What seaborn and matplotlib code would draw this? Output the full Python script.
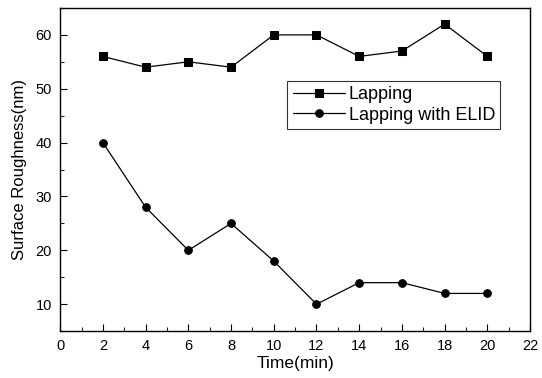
import pandas as pd
import matplotlib.pyplot as plt
import seaborn as sns
from matplotlib.ticker import MultipleLocator

# --- Données ---
time_min = [2, 4, 6, 8, 10, 12, 14, 16, 18, 20]
lapping = [56, 54, 55, 54, 60, 60, 56, 57, 62, 56]
lapping_elid = [40, 28, 20, 25, 18, 10, 14, 14, 12, 12]

df = pd.DataFrame({
    "Time": time_min * 2,
    "Roughness": lapping + lapping_elid,
    "Process": ["Lapping"] * len(time_min) + ["Lapping with ELID"] * len(time_min),
})

sns.set_theme(style="ticks")
plt.rcParams["font.family"] = ["Liberation Sans", "DejaVu Sans"]
plt.rcParams["text.color"] = "black"
plt.rcParams["axes.labelcolor"] = "black"

fig = plt.figure(figsize=(5.42, 3.78), dpi=100)
ax = fig.add_axes([0.111, 0.124, 0.867, 0.855])

sns.lineplot(
    data=df, x="Time", y="Roughness", hue="Process", style="Process",
    markers={"Lapping": "s", "Lapping with ELID": "o"}, dashes=False,
    palette=["black", "black"], markersize=5.5, linewidth=0.9,
    markeredgecolor="black", ax=ax,
)

ax.set_xlim(0, 22)
ax.set_ylim(5, 65)
ax.xaxis.set_major_locator(MultipleLocator(2))
ax.xaxis.set_minor_locator(MultipleLocator(1))
ax.yaxis.set_minor_locator(MultipleLocator(5))
ax.set_yticks([10, 20, 30, 40, 50, 60])
ax.tick_params(which="major", direction="in", length=5, width=0.8, labelsize=10.5,
               colors="black", pad=6)
ax.tick_params(which="minor", direction="in", length=3, width=0.8)
for s in ax.spines.values():
    s.set_color("black")
    s.set_linewidth(1.0)

ax.set_xlabel("Time(min)", fontsize=12.5, labelpad=2)
ax.set_ylabel("Surface Roughness(nm)", fontsize=12, labelpad=6)

leg = ax.legend(loc="upper left", bbox_to_anchor=(0.483, 0.775), fontsize=13,
                frameon=True, fancybox=False, edgecolor="black",
                handlelength=2.9, handletextpad=0.2, borderpad=0.3,
                labelspacing=0.2, borderaxespad=0)
leg.get_frame().set_linewidth(0.8)

plt.savefig("out.png", dpi=100)
